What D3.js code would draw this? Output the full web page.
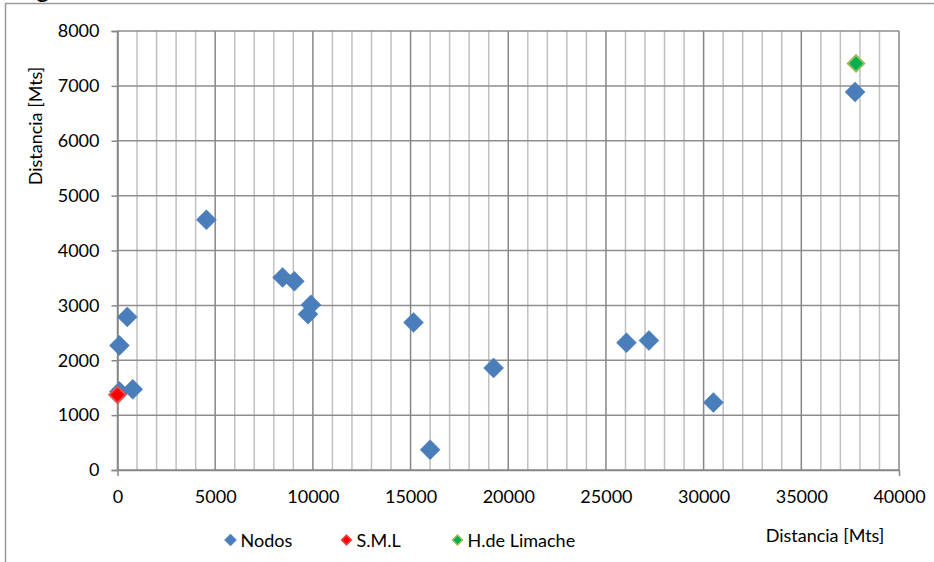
<!DOCTYPE html>
<html>
<head>
<meta charset="utf-8">
<script src="https://cdn.jsdelivr.net/npm/d3@7"></script>
<style>
  html, body { margin: 0; padding: 0; background: #fff; }
  svg { display: block; }
  text { font-family: Lato, "Open Sans", sans-serif; fill: #000; }
</style>
</head>
<body>
<script>
// Series: nodes of the network and the two reference points (metres)
const nodosX = [4550, 500, 100, 100, 780, 8450, 9050, 9900, 9750, 15150, 16000, 19250, 26050, 27200, 30500, 37750];
const nodosY = [4560, 2790, 2270, 1430, 1470, 3510, 3440, 3010, 2840, 2690, 370, 1860, 2320, 2360, 1230, 6890];
const smlX = [0];
const smlY = [1370];
const limacheX = [37800];
const limacheY = [7410];

// Axis ticks
const xTicks = [0, 5000, 10000, 15000, 20000, 25000, 30000, 35000, 40000];
const xMinor = d3.range(0, 40001, 1000);
const yTicks = [0, 1000, 2000, 3000, 4000, 5000, 6000, 7000, 8000];

const legendNames = ["Nodos", "S.M.L", "H.de Limache"];
const xTitle = "Distancia [Mts]";
const yTitle = "Distancia [Mts]";

const W = 934, H = 562;
const svg = d3.select("body").append("svg").attr("width", W).attr("height", H);

// Outer chart frame (only top and left edges fall inside the view)
svg.append("path")
  .attr("d", "M5.5,562 V3.5 H934")
  .attr("fill", "none").attr("stroke", "#9a9a9a").attr("stroke-width", 1.5);

// Descender of the heading line above the frame
svg.append("text").attr("x", 36).attr("y", -3).attr("font-size", 26).text("g");

const x = d3.scaleLinear().domain([0, 40000]).range([117.5, 899]);
const y = d3.scaleLinear().domain([0, 8000]).range([470, 31]);

const grid = svg.append("g");
// Minor vertical gridlines
grid.selectAll("line.minor")
  .data(xMinor.filter(v => v % 5000 !== 0))
  .join("line").attr("class", "minor")
  .attr("x1", d => x(d)).attr("x2", d => x(d))
  .attr("y1", y(0)).attr("y2", y(8000))
  .attr("stroke", "#c0c0c0").attr("stroke-width", 1.5);
// Horizontal gridlines
grid.selectAll("line.h")
  .data(yTicks)
  .join("line").attr("class", "h")
  .attr("x1", x(0)).attr("x2", x(40000))
  .attr("y1", d => y(d)).attr("y2", d => y(d))
  .attr("stroke", "#8e8e8e").attr("stroke-width", 1.5);
// Major vertical gridlines
grid.selectAll("line.major")
  .data(xTicks)
  .join("line").attr("class", "major")
  .attr("x1", d => x(d)).attr("x2", d => x(d))
  .attr("y1", y(0)).attr("y2", y(8000))
  .attr("stroke", "#878787").attr("stroke-width", 1.5);

// Y axis
const yAxis = svg.append("g")
  .attr("transform", `translate(${x(0)},0)`)
  .call(d3.axisLeft(y).tickValues(yTicks).tickSize(6).tickPadding(12).tickFormat(d3.format("d")));
yAxis.select(".domain").attr("stroke", "#878787").attr("stroke-width", 1.5);
yAxis.selectAll(".tick line").attr("stroke", "#878787").attr("stroke-width", 1.5);
yAxis.selectAll(".tick text").attr("font-size", 18).attr("font-family", "Lato").attr("fill", "#000");

// X axis: labels at every major value, tick marks at the ends only
const xAxis = svg.append("g")
  .attr("transform", `translate(0,${y(0)})`)
  .call(d3.axisBottom(x).tickValues(xTicks).tickSize(0).tickPadding(20).tickFormat(d3.format("d")));
xAxis.select(".domain").attr("stroke", "#878787").attr("stroke-width", 1.5);
xAxis.selectAll(".tick text").attr("font-size", 18).attr("font-family", "Lato").attr("fill", "#000");
xAxis.selectAll(".tick line").attr("stroke", "#878787").attr("stroke-width", 1.5)
  .attr("y2", d => (d === 0 || d === 40000) ? 6 : 0);

// Axis titles
svg.append("text")
  .attr("x", 825).attr("y", 542).attr("text-anchor", "middle")
  .attr("font-size", 18).text(xTitle);
svg.append("text")
  .attr("transform", "translate(42,126) rotate(-90)")
  .attr("text-anchor", "middle").attr("font-size", 18).text(yTitle);

// Diamond marker: a square turned through 45 degrees
const diamond = (size) => d3.symbol(d3.symbolSquare, size)();

const series = [
  { xs: nodosX, ys: nodosY, fill: "#4a7ebb", stroke: "#4a7ebb", sw: 0.5, size: 200 },
  { xs: smlX, ys: smlY, fill: "#ff0000", stroke: "#e05050", sw: 2, size: 135 },
  { xs: limacheX, ys: limacheY, fill: "#00b050", stroke: "#9bbb59", sw: 2, size: 135 }
];

series.forEach(s => {
  svg.append("g").selectAll("path")
    .data(s.xs.map((v, i) => [v, s.ys[i]]))
    .join("path")
    .attr("d", diamond(s.size))
    .attr("transform", d => `translate(${x(d[0])},${y(d[1])}) rotate(45)`)
    .attr("fill", s.fill).attr("stroke", s.stroke).attr("stroke-width", s.sw);
});

// Legend
const legendX = [230.5, 346.5, 457.5];
const legend = svg.append("g");
series.forEach((s, i) => {
  legend.append("path")
    .attr("d", diamond(s.sw > 1 ? 50 : 72))
    .attr("transform", `translate(${legendX[i]},540) rotate(45)`)
    .attr("fill", s.fill).attr("stroke", s.stroke).attr("stroke-width", s.sw > 1 ? 1.5 : 0.5);
  legend.append("text")
    .attr("x", legendX[i] + 10).attr("y", 546.5)
    .attr("font-size", 18).text(legendNames[i]);
});
</script>
</body>
</html>
